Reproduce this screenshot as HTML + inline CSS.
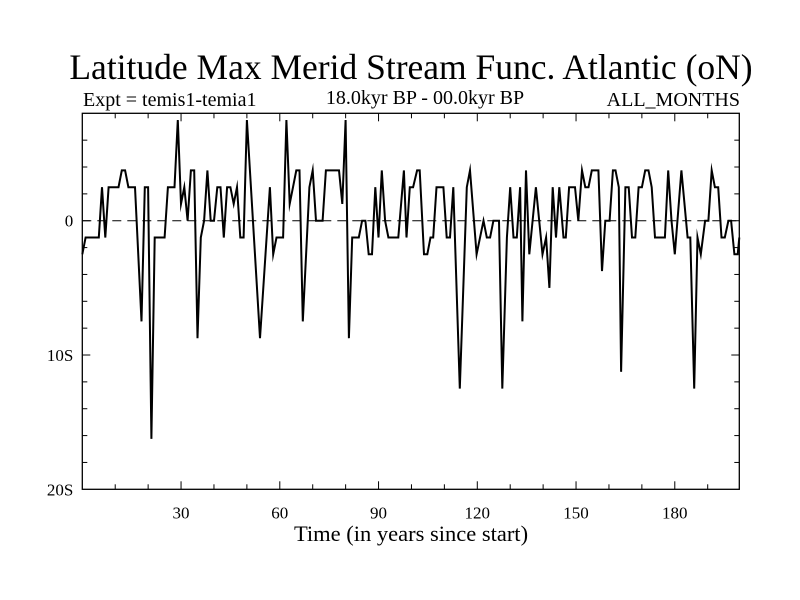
<!DOCTYPE html>
<html><head><meta charset="utf-8"><style>
body{margin:0;background:#fff}
svg{display:block;font-family:"Liberation Serif",serif}
</style></head><body>
<svg id="chart" width="800" height="600">
<rect width="800" height="600" fill="#fff"/>
<text x="411" y="79" font-size="35.5" text-anchor="middle">Latitude Max Merid Stream Func. Atlantic (oN)</text>
<text x="83" y="106" font-size="20">Expt = temis1-temia1</text>
<text x="425" y="104" font-size="20" text-anchor="middle">18.0kyr BP - 00.0kyr BP</text>
<text x="740" y="106" font-size="20" text-anchor="end">ALL_MONTHS</text>
<text x="411" y="541" font-size="22.5" text-anchor="middle">Time (in years since start)</text>
<g id="axes"></g>
<g id="series"></g>
</svg>
<script>
const years = [0,1,5,6,7,8,11,12,13,14,16,18,19,20,21,22,25,26,28,29,30,31,32,33,34,35,36,37,38,39,40,41,42,43,44,45,46,47,48,49,50,54,57,58,59,61,62,63,64,65,66,67,69,70,71,73,74,78,79,80,81,82,84,85,86,87,88,89,90,91,92,93,96,97.7,98.5,99.5,100.5,101.7,102.5,103.8,104.8,105.8,106.6,107.6,109.7,110.7,111.7,112.7,114.7,116.8,117.8,119.8,121.9,122.9,123.9,124.9,126.6,127.6,129,130,131,132,133,133.7,134.8,135.8,137.8,139.8,140.9,141.9,142.9,143.9,144.9,146.2,146.9,147.9,149.7,150.7,151.8,152.8,153.8,154.8,156.8,157.9,158.9,160.2,161.2,162,163,163.7,165,166,167,168,169,170,171,172,173,174,177,178,179,180,182,183.9,184.7,185.9,186.9,187.9,189.2,190.2,191.2,192.2,193.2,194.2,195.2,196.3,197.1,198.1,199.1,199.6];
const values = [-2.5,-1.25,-1.25,2.5,-1.25,2.5,2.5,3.75,3.75,2.5,2.5,-7.5,2.5,2.5,-16.25,-1.25,-1.25,2.5,2.5,7.5,1.25,2.5,0,3.75,3.75,-8.75,-1.25,0,3.75,0,0,2.5,2.5,-1.25,2.5,2.5,1.25,2.5,-1.25,-1.25,7.5,-8.75,2.5,-2.5,-1.25,-1.25,7.5,1.25,2.5,3.75,3.75,-7.5,2.5,3.75,0,0,3.75,3.75,1.25,7.5,-8.75,-1.25,-1.25,0,0,-2.5,-2.5,2.5,-1.25,3.75,0,-1.25,-1.25,3.75,-1.25,2.5,2.5,3.75,3.75,-2.5,-2.5,-1.25,-1.25,2.5,2.5,-1.25,-1.25,2.5,-12.5,2.5,3.75,-2.5,0,-1.25,-1.25,0,0,-12.5,-1.25,2.5,-1.25,-1.25,2.5,-7.5,3.75,-2.5,2.5,-2.5,-1.25,-5,2.5,-1.25,2.5,-1.25,-1.25,2.5,2.5,0,3.75,2.5,2.5,3.75,3.75,-3.75,0,0,3.75,3.75,2.5,-11.25,2.5,2.5,-1.25,-1.25,2.5,2.5,3.75,3.75,2.5,-1.25,-1.25,3.75,0,-2.5,3.75,-1.25,-1.25,-12.5,-1.25,-2.5,0,0,3.75,2.5,2.5,-1.25,-1.25,0,0,-2.5,-2.5,-1.25,-1.25];
const xTicks = [30,60,90,120,150,180];
const yTicks = [0,-10,-20];
const yTickLabels = ["0","10S","20S"];

const L=82.3,R=739.3,T=113.3,B=489.3,XMIN=0,XMAX=199.6,YMIN=-20,YMAX=8;
const sx=v=>L+(v-XMIN)/(XMAX-XMIN)*(R-L);
const sy=v=>B-(v-YMIN)/(YMAX-YMIN)*(B-T);
const NS="http://www.w3.org/2000/svg";
const axes=document.getElementById('axes'), series=document.getElementById('series');
function mk(tag,attrs,parent){const e=document.createElementNS(NS,tag);for(const k in attrs)e.setAttribute(k,attrs[k]);parent.appendChild(e);return e;}

const frame=mk('rect',{x:L,y:T,width:R-L,height:B-T,fill:'none',stroke:'#000','stroke-width':1.3},axes);



const zl=mk('line',{x1:L,x2:R,y1:sy(0),y2:sy(0),stroke:'#000','stroke-width':1,'stroke-dasharray':'9,6'},axes);



for(let t=10;t<XMAX;t+=10){
  const major=xTicks.includes(t);const len=major?8:5;
  mk('line',{x1:sx(t),x2:sx(t),y1:B,y2:B-len,stroke:'#000','stroke-width':1},axes);
  mk('line',{x1:sx(t),x2:sx(t),y1:T,y2:T+len,stroke:'#000','stroke-width':1},axes);
}
xTicks.forEach(t=>{
  const tx=mk('text',{x:sx(t),y:B+29,'font-size':17,'text-anchor':'middle'},axes);
  tx.textContent=t;
  
  
});
for(let v=-18;v<YMAX;v+=2){
  const major=yTicks.includes(v);const len=major?8:5;
  mk('line',{x1:L,x2:L+len,y1:sy(v),y2:sy(v),stroke:'#000','stroke-width':1},axes);
  mk('line',{x1:R,x2:R-len,y1:sy(v),y2:sy(v),stroke:'#000','stroke-width':1},axes);
}
yTicks.forEach((v,i)=>{
  const tx=mk('text',{x:L-9,y:sy(v)+6,'font-size':17,'text-anchor':'end'},axes);
  tx.textContent=yTickLabels[i];
  
  
});

const pts=years.map((y,i)=>sx(y).toFixed(1)+','+sy(values[i]).toFixed(1)).join(' ');
const line=mk('polyline',{points:pts,fill:'none',stroke:'#000','stroke-width':2,'stroke-linejoin':'miter','stroke-miterlimit':10},series);


</script>
</body></html>
